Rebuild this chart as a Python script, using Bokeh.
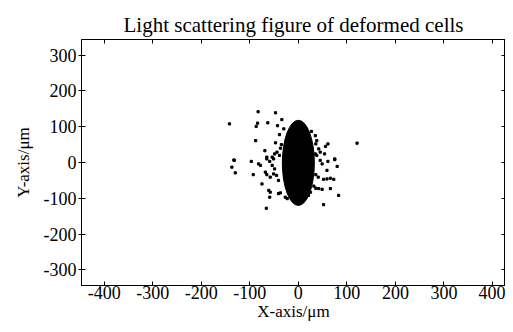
from bokeh.plotting import figure
from bokeh.models import LinearAxis, Range1d, FixedTicker
from bokeh.embed import file_html
from bokeh.resources import INLINE

# dense core of the scattering pattern (centre, full width, full height in µm)
core_x = [0]
core_y = [-1]
core_w = [66]
core_h = [238]

# scattered speckles (µm)
speck_x = [-83, -47, -142, -84, -63, -87, -43, -34, -30, -39, -88, -47, -35, -69, -37,
           -49, -44, -39, -54, -51, -65, -133, -132, -97, -82, -78, -65, -59, -54, -49,
           -137, -130, -93, -68, -65, -58, -51, -45, -41, -75, -61, -58, -41, -37, -59,
           -27, -23, -66,
           27, 35, 38, 36, 61, 56, 121, 42, 45, 35, 38, 54, 75,
           61, 75, 80, 45, 49, 59, 36, 41, 52, 59, 66, 73, 32, 36, 42, 49, 66, 25, 21, 83, 52]
speck_y = [142, 139, 108, 110, 111, 101, 103, 120, 94, 78, 61, 55, 50, 33, 40,
           24, 29, 20, 15, 10, 15, 7, 6, 3, -4, -8, 10, 3, -8, -18,
           -13, -29, -34, -27, -34, -41, -32, -36, -50, -60, -78, -83, -87, -85, -97,
           -97, -101, -128,
           87, 75, 61, 52, 52, 45, 54, 38, 29, 24, 20, 24, 10,
           3, 8, -11, 6, -4, -22, -34, -41, -47, -46, -44, -47, -66, -72, -73, -75, -73, -83, -92, -92, -118]

x_ticks = [-400, -300, -200, -100, 0, 100, 200, 300, 400]
y_ticks = [-300, -200, -100, 0, 100, 200, 300]
x_tick_labels = ["-400", "-300", "-200", "-100", "0", "100", "200", "300", "400"]
y_tick_labels = ["-300", "-200", "-100", "0", "100", "200", "300"]

FONT = "Liberation Serif"

p = figure(width=505, height=324,
           x_range=Range1d(-447, 427), y_range=Range1d(-344, 344),
           output_backend="svg", toolbar_location=None,
           title="Light scattering figure of deformed cells",
           min_border_left=81, min_border_right=0,
           min_border_top=39, min_border_bottom=39)

p.background_fill_color = "white"
p.border_fill_color = "white"
p.outline_line_color = "black"
p.outline_line_width = 1
p.xgrid.visible = False
p.ygrid.visible = False

p.title.text_font = FONT
p.title.text_font_size = "21px"
p.title.text_font_style = "normal"
p.title.align = "center"
p.title.text_color = "black"
p.title.standoff = 5

p.ellipse(x=core_x, y=core_y, width=core_w, height=core_h,
          fill_color="black", line_color="black")
p.scatter(x=speck_x, y=speck_y, marker="square", size=2.2,
          fill_color="black", line_color="black")

def style_axis(ax, ticks, labels=None):
    ax.ticker = FixedTicker(ticks=ticks)
    ax.major_tick_in = 4
    ax.major_tick_out = 0
    ax.minor_tick_line_color = None
    ax.axis_line_color = "black"
    ax.major_tick_line_color = "black"
    ax.major_label_text_font = FONT
    ax.major_label_text_color = "black"
    ax.major_label_text_font_size = "18px"
    ax.axis_label_text_font = FONT
    ax.axis_label_text_font_style = "normal"
    ax.axis_label_text_color = "black"
    ax.axis_label_text_font_size = "17px"
    if labels is not None:
        ax.major_label_overrides = {t: s for t, s in zip(ticks, labels)}
    else:
        ax.major_label_overrides = {t: "" for t in ticks}
        ax.major_label_standoff = 0

style_axis(p.xaxis[0], x_ticks, x_tick_labels)
style_axis(p.yaxis[0], y_ticks, y_tick_labels)
p.xaxis[0].axis_label = "X-axis/μm"
p.yaxis[0].axis_label = "Y-axis/μm"
p.xaxis[0].major_label_standoff = 0
p.xaxis[0].axis_label_standoff = 0
p.yaxis[0].major_tick_out = 3
p.yaxis[0].major_label_standoff = 2
p.yaxis[0].axis_label_standoff = 8

top = LinearAxis()
style_axis(top, x_ticks)
p.add_layout(top, "above")
right = LinearAxis()
style_axis(right, y_ticks)
p.add_layout(right, "right")

open("out.html", "w").write(file_html(p, INLINE))
